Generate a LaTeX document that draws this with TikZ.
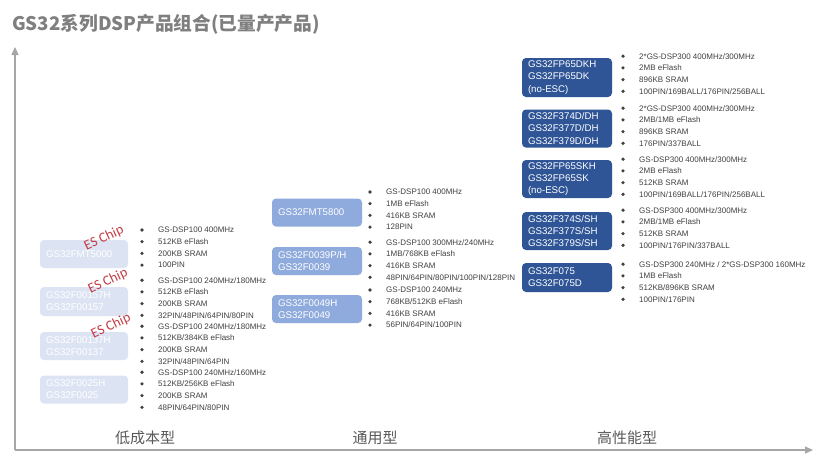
\documentclass[tikz,border=0pt]{standalone}
\usepackage{fontspec}
\setmainfont{Liberation Sans}
\newfontfamily\cjk{Noto Sans CJK SC}
\newfontfamily\esfont{Carlito}
\usepackage{tikz}
\usetikzlibrary{arrows.meta}

\definecolor{axisgray}{RGB}{166,166,166}
\definecolor{titlegray}{RGB}{127,127,127}
\definecolor{labelgray}{RGB}{89,89,89}
\definecolor{specgray}{RGB}{64,64,64}
\definecolor{lowblue}{RGB}{220,228,244}
\definecolor{midblue}{RGB}{143,170,220}
\definecolor{highblue}{RGB}{47,85,151}
\definecolor{esred}{RGB}{196,62,72}

\newcommand{\spec}[1]{\makebox[18pt][l]{\tikz[baseline=-2.9pt]\fill[specgray] (1.8pt,0pt) circle (1.8pt);}#1}

\tikzset{
	chipbox/.style={shape=rectangle,rounded corners=4pt,text=white,align=left,
		font=\fontsize{9.7}{12.3}\selectfont,inner xsep=6pt,inner ysep=0pt},
	lowbox/.style={chipbox,fill=lowblue,text width=76pt,minimum height=28pt},
	midbox/.style={chipbox,fill=midblue,text width=78pt,minimum height=28pt},
	highbox/.style={chipbox,fill=highblue,text width=78pt,minimum height=38pt},
	specs/.style={anchor=north west,inner sep=0pt,align=left,text=specgray,
		font=\fontsize{8}{11.7}\selectfont},
	eschip/.style={rotate=25,text=esred,inner sep=0pt,font=\esfont\fontsize{14}{14}\selectfont},
	category/.style={text=labelgray,inner sep=0pt,font=\cjk\fontsize{15}{15}\selectfont},
	axis/.style={draw=axisgray,line width=1.2pt,-{Triangle[length=8pt,width=7pt]}}
}

\begin{document}
\begin{tikzpicture}[x=1pt,y=-1pt]
	\useasboundingbox[fill=white] (0,0) rectangle (830,461);

	% title
	\node[anchor=west,inner sep=0pt,text=titlegray,font=\cjk\bfseries\fontsize{18.7}{18.7}\selectfont] (title) at (12,24) {GS32系列DSP产品组合(已量产产品)};

	% axes
	\coordinate (origin) at (15,450);
	\coordinate (ytip) at (15,47);
	\coordinate (xtip) at (813,450);
	\draw[axis] (origin) -- (ytip);
	\draw[axis] (origin) -- (xtip);

	% low cost
	\node[lowbox] (f5000) at (84,254) {GS32FMT5000};
	\node[lowbox,minimum height=29pt] (f157) at (84,301.5) {GS32F00157H\\GS32F00157};
	\node[lowbox] (f137) at (84,346) {GS32F00137H\\GS32F00137};
	\node[lowbox] (f25) at (84,389.5) {GS32F0025H\\GS32F0025};

	\node[specs] (s5000) at (140,227.1) {\spec{GS-DSP100 400MHz}\\\spec{512KB eFlash}\\\spec{200KB SRAM}\\\spec{100PIN}};
	\node[specs] (s157) at (140,277.1) {\spec{GS-DSP100 240MHz/180MHz}\\\spec{512KB eFlash}\\\spec{200KB SRAM}\\\spec{32PIN/48PIN/64PIN/80PIN}};
	\node[specs] (s137) at (140,323.1) {\spec{GS-DSP100 240MHz/180MHz}\\\spec{512KB/384KB eFlash}\\\spec{200KB SRAM}\\\spec{32PIN/48PIN/64PIN}};
	\node[specs] (s25) at (140,369.1) {\spec{GS-DSP100 240MHz/160MHz}\\\spec{512KB/256KB eFlash}\\\spec{200KB SRAM}\\\spec{48PIN/64PIN/80PIN}};

	\node[eschip] (es5000) at (104,238) {ES Chip};
	\node[eschip] (es157) at (108,281) {ES Chip};
	\node[eschip] (es137) at (111,326) {ES Chip};

	% general purpose
	\node[midbox] (f5800) at (317,212.5) {GS32FMT5800};
	\node[midbox] (f39) at (317,261) {GS32F0039P/H\\GS32F0039};
	\node[midbox] (f49) at (317,309) {GS32F0049H\\GS32F0049};

	\node[specs] (s5800) at (368,189.1) {\spec{GS-DSP100 400MHz}\\\spec{1MB eFlash}\\\spec{416KB SRAM}\\\spec{128PIN}};
	\node[specs] (s39) at (368,239.1) {\spec{GS-DSP100 300MHz/240MHz}\\\spec{1MB/768KB eFlash}\\\spec{416KB SRAM}\\\spec{48PIN/64PIN/80PIN/100PIN/128PIN}};
	\node[specs] (s49) at (368,287.1) {\spec{GS-DSP100 240MHz}\\\spec{768KB/512KB eFlash}\\\spec{416KB SRAM}\\\spec{56PIN/64PIN/100PIN}};

	% high performance
	\node[highbox,minimum height=39pt] (fdk) at (567,77.5) {GS32FP65DKH\\GS32FP65DK\\(no-ESC)};
	\node[highbox] (fd) at (567,128.5) {GS32F374D/DH\\GS32F377D/DH\\GS32F379D/DH};
	\node[highbox] (fsk) at (567,179) {GS32FP65SKH\\GS32FP65SK\\(no-ESC)};
	\node[highbox] (fs) at (567,231) {GS32F374S/SH\\GS32F377S/SH\\GS32F379S/SH};
	\node[highbox,minimum height=29pt] (f75) at (567,277.5) {GS32F075\\GS32F075D};

	\node[specs] (sdk) at (621,53.1) {\spec{2*GS-DSP300 400MHz/300MHz}\\\spec{2MB eFlash}\\\spec{896KB SRAM}\\\spec{100PIN/169BALL/176PIN/256BALL}};
	\node[specs] (sd) at (621,105.1) {\spec{2*GS-DSP300 400MHz/300MHz}\\\spec{2MB/1MB eFlash}\\\spec{896KB SRAM}\\\spec{176PIN/337BALL}};
	\node[specs] (ssk) at (621,156.1) {\spec{GS-DSP300 400MHz/300MHz}\\\spec{2MB eFlash}\\\spec{512KB SRAM}\\\spec{100PIN/169BALL/176PIN/256BALL}};
	\node[specs] (ss) at (621,207.1) {\spec{GS-DSP300 400MHz/300MHz}\\\spec{2MB/1MB eFlash}\\\spec{512KB SRAM}\\\spec{100PIN/176PIN/337BALL}};
	\node[specs] (s75) at (621,261.1) {\spec{GS-DSP300 240MHz / 2*GS-DSP300 160MHz}\\\spec{1MB eFlash}\\\spec{512KB/896KB SRAM}\\\spec{100PIN/176PIN}};

	% categories
	\node[category] (lowcost) at (145,438) {低成本型};
	\node[category] (general) at (375,438) {通用型};
	\node[category] (highperf) at (627,438) {高性能型};
\end{tikzpicture}
\end{document}
